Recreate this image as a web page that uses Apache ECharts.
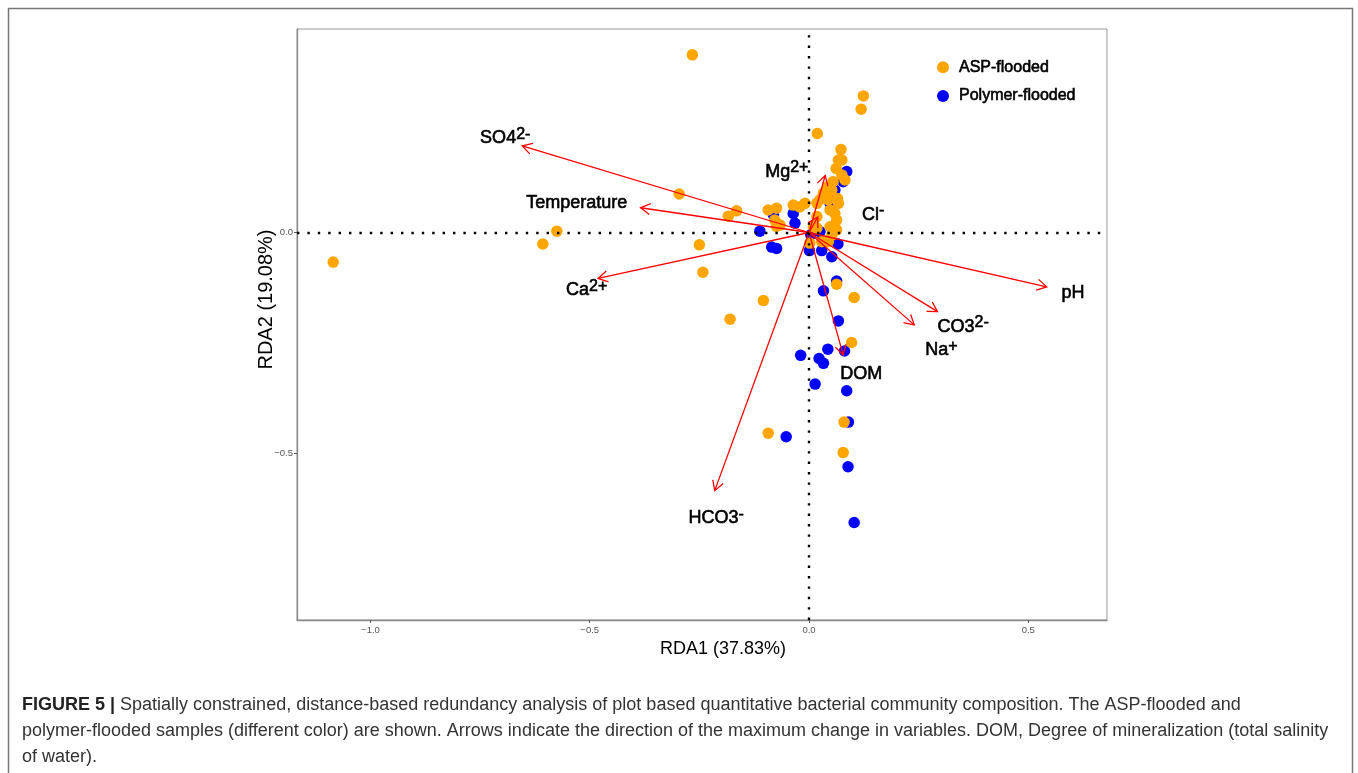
<!DOCTYPE html>
<html>
<head>
<meta charset="utf-8">
<script src="https://cdn.jsdelivr.net/npm/echarts@6/dist/echarts.min.js"></script>
<style>
  html, body { margin: 0; padding: 0; background: #fff; }
  #rdaChart { width: 1358px; height: 773px; }
</style>
</head>
<body>
<div id="rdaChart"></div>
<script>
// axis ranges and ticks
const xRange = [-1.1676, 0.6796];
const yRange = [-0.8767, 0.4604];
const xTicks = [-1.0, -0.5, 0.0, 0.5];
const yTicks = [-0.5, 0.0];

// sample scores, ASP-flooded (orange)
const aspX = [-0.266, 0.124, 0.119, 0.019, 0.073, 0.067, 0.075, 0.062, 0.075, 0.082, 0.055, 0.052, 0.043, 0.033,
  0.044, 0.025, 0.065, 0.067, 0.018, -0.009, -0.021, -0.036, -0.074, -0.093, -0.078, -0.066, -0.074, 0.018,
  0.010, 0.018, 0.048, 0.059, 0.063, 0.048, 0.052, 0.063, 0.029, 0.002, 0.044, -0.296, -0.165, -0.184,
  -0.575, -0.607, -1.085, -0.250, -0.242, -0.104, -0.180, 0.063, 0.103, 0.097, -0.093, 0.080, 0.078];
const aspY = [0.402, 0.309, 0.279, 0.224, 0.188, 0.164, 0.164, 0.145, 0.130, 0.119, 0.115, 0.096, 0.104, 0.089,
  0.074, 0.074, 0.077, 0.066, 0.066, 0.066, 0.058, 0.062, 0.055, 0.051, 0.028, 0.017, 0.014, 0.036,
  0.013, 0.010, 0.051, 0.043, 0.028, 0.013, -0.006, 0.006, -0.021, -0.024, -0.021, 0.087, 0.049, 0.037,
  0.003, -0.026, -0.067, -0.028, -0.090, -0.154, -0.196, -0.117, -0.147, -0.249, -0.454, -0.429, -0.498];

// sample scores, Polymer-flooded (blue)
const polX = [0.086, 0.078, 0.059, 0.052, 0.048, -0.036, -0.032, -0.081, -0.112, -0.085, -0.074, 0.001, 0.029,
  0.052, 0.066, 0.063, 0.033, 0.067, 0.043, 0.081, -0.019, 0.023, 0.033, 0.014, 0.086, 0.090, -0.052,
  0.089, 0.103, 0.025, 0.004];
const polY = [0.138, 0.115, 0.096, 0.081, 0.066, 0.043, 0.021, 0.040, 0.003, -0.033, -0.036, -0.041, -0.041,
  -0.055, -0.026, -0.110, -0.132, -0.200, -0.264, -0.268, -0.278, -0.285, -0.296, -0.343, -0.358, -0.429, -0.462,
  -0.530, -0.656, 0.002, -0.005];

// environmental variables (arrow tips)
const envNames = ['SO4', 'Temperature', 'Ca', 'Mg', 'Cl', 'pH', 'CO3', 'Na', 'DOM', 'HCO3'];
const envSup = ['2-', '', '2+', '2+', '-', '', '2-', '+', '', '-'];
const envX = [-0.654, -0.384, -0.481, 0.037, 0.020, 0.542, 0.293, 0.240, 0.078, -0.215];
const envY = [0.196, 0.056, -0.104, 0.129, 0.035, -0.123, -0.179, -0.209, -0.277, -0.584];
// where each variable name sits
const envLabelX = [-0.750, -0.645, -0.554, -0.100, 0.121, 0.576, 0.293, 0.265, 0.071, -0.275];
const envLabelY = [0.213, 0.066, -0.131, 0.137, 0.040, -0.137, -0.213, -0.267, -0.320, -0.647];

const FONT = "'Liberation Sans', Arial, Helvetica, sans-serif";

const fmtTick = v => (v < 0 ? '\u2212' : '') + Math.abs(v).toFixed(1);

const zip = (a, b) => a.map((v, i) => [v, b[i]]);

const chartDom = document.getElementById('rdaChart');
const myChart = echarts.init(chartDom, null, { renderer: 'canvas', devicePixelRatio: 1 });

// medium-ish weight: regular glyphs with a thin outline
const mediumText = { fontFamily: FONT, fill: '#000', stroke: '#000', lineWidth: 0.6 };

const option = {
  animation: false,
  backgroundColor: '#fff',
  grid: {
    left: 297,
    top: 29,
    width: 810,
    height: 591,
    show: true,
    borderColor: '#999',
    borderWidth: 1,
    backgroundColor: 'transparent'
  },
  legend: {
    orient: 'vertical',
    left: 932,
    top: 54,
    itemWidth: 12,
    itemHeight: 12,
    itemGap: 12,
    icon: 'circle',
    data: ['ASP-flooded', 'Polymer-flooded'],
    textStyle: {
      fontFamily: FONT,
      fontSize: 16,
      color: '#000',
      textBorderColor: '#000',
      textBorderWidth: 0.6,
      padding: [0, 0, 0, 5]
    }
  },
  xAxis: {
    type: 'value',
    min: xRange[0],
    max: xRange[1],
    splitLine: { show: false },
    axisLine: { show: true, onZero: false, lineStyle: { color: '#888', width: 1.3 } },
    axisTick: { show: true, length: 3, customValues: xTicks, lineStyle: { color: '#555' } },
    axisLabel: {
      customValues: xTicks,
      formatter: fmtTick,
      fontFamily: FONT,
      fontSize: 9.5,
      color: '#555',
      margin: 5
    },
    name: 'RDA1 (37.83%)',
    nameLocation: 'middle',
    nameGap: 17,
    nameTextStyle: { fontFamily: FONT, fontSize: 18, color: '#000', padding: [0, 0, 0, 42] }
  },
  yAxis: {
    type: 'value',
    min: yRange[0],
    max: yRange[1],
    splitLine: { show: false },
    axisLine: { show: true, onZero: false, lineStyle: { color: '#888', width: 1.3 } },
    axisTick: { show: true, length: 3, customValues: yTicks, lineStyle: { color: '#555' } },
    axisLabel: {
      customValues: yTicks,
      formatter: fmtTick,
      fontFamily: FONT,
      fontSize: 9.5,
      color: '#555',
      margin: 4
    },
    name: 'RDA2 (19.08%)',
    nameLocation: 'middle',
    nameRotate: 90,
    nameGap: 21,
    nameMoveOverlap: false,
    nameTextStyle: { fontFamily: FONT, fontSize: 20, color: '#000', padding: [0, 0, 0, 50] }
  },
  series: [
    {
      // dotted reference lines through the origin
      type: 'scatter',
      data: [],
      z: 1,
      silent: true,
      markLine: {
        silent: true,
        symbol: ['none', 'none'],
        label: { show: false },
        lineStyle: { color: '#000', width: 2.4, type: [2.4, 8], cap: 'butt' },
        data: [{ yAxis: 0 }, { xAxis: 0 }]
      }
    },
    {
      name: 'Polymer-flooded',
      type: 'scatter',
      z: 2,
      symbol: 'circle',
      symbolSize: 11.5,
      itemStyle: { color: '#0000FF', opacity: 1 },
      data: zip(polX, polY)
    },
    {
      name: 'ASP-flooded',
      type: 'scatter',
      z: 3,
      symbol: 'circle',
      symbolSize: 11.5,
      itemStyle: { color: '#FFA500', opacity: 1 },
      data: zip(aspX, aspY)
    },
    {
      // biplot arrows with open heads
      type: 'custom',
      z: 4,
      silent: true,
      clip: false,
      data: zip(envX, envY),
      renderItem: (params, api) => {
        const p0 = api.coord([0, 0]);
        const p1 = api.coord([api.value(0), api.value(1)]);
        const ang = Math.atan2(p1[1] - p0[1], p1[0] - p0[0]);
        const head = 11;
        const spread = Math.PI / 6;
        const w1 = [p1[0] - head * Math.cos(ang - spread), p1[1] - head * Math.sin(ang - spread)];
        const w2 = [p1[0] - head * Math.cos(ang + spread), p1[1] - head * Math.sin(ang + spread)];
        const st = { stroke: '#FF0000', lineWidth: 1.3, fill: null };
        return {
          type: 'group',
          children: [
            { type: 'line', shape: { x1: p0[0], y1: p0[1], x2: p1[0], y2: p1[1] }, style: st },
            { type: 'polyline', shape: { points: [w1, p1, w2] }, style: st }
          ]
        };
      }
    },
    {
      // variable names
      type: 'custom',
      z: 5,
      silent: true,
      clip: false,
      data: zip(envLabelX, envLabelY),
      renderItem: (params, api) => {
        const p = api.coord([api.value(0), api.value(1)]);
        const i = params.dataIndex;
        const sup = envSup[i];
        const txt = sup ? '{m|' + envNames[i] + '}{s|' + sup + '}' : '{m|' + envNames[i] + '}';
        return {
          type: 'text',
          x: p[0],
          y: p[1],
          style: {
            text: txt,
            align: 'left',
            verticalAlign: 'middle',
            fill: '#000',
            rich: {
              m: Object.assign({ fontSize: 18, lineHeight: 18, verticalAlign: 'bottom' }, mediumText),
              s: Object.assign({ fontSize: 16, lineHeight: 16, verticalAlign: 'bottom', padding: [0, 0, 5, 0] }, mediumText)
            }
          }
        };
      }
    }
  ],
  graphic: [
    {
      type: 'rect',
      silent: true,
      shape: { x: 8.5, y: 8.5, width: 1344, height: 800 },
      style: { fill: 'none', stroke: '#777', lineWidth: 1.5 }
    },
    {
      type: 'text',
      left: 22,
      top: 696,
      style: {
        text: '{b|FIGURE 5 |} Spatially constrained, distance-based redundancy analysis of plot based quantitative bacterial community composition. The ASP-flooded and',
        fontFamily: FONT,
        fontSize: 18,
        fill: '#333',
        rich: { b: { fontFamily: FONT, fontSize: 18, fontWeight: 'bold', fill: '#222' } }
      }
    },
    {
      type: 'text',
      left: 22,
      top: 722,
      style: {
        text: 'polymer-flooded samples (different color) are shown. Arrows indicate the direction of the maximum change in variables. DOM, Degree of mineralization (total salinity',
        fontFamily: FONT,
        fontSize: 18,
        fill: '#333'
      }
    },
    {
      type: 'text',
      left: 22,
      top: 748,
      style: {
        text: 'of water).',
        fontFamily: FONT,
        fontSize: 18,
        fill: '#333'
      }
    }
  ]
};

option && myChart.setOption(option);
</script>
</body>
</html>
